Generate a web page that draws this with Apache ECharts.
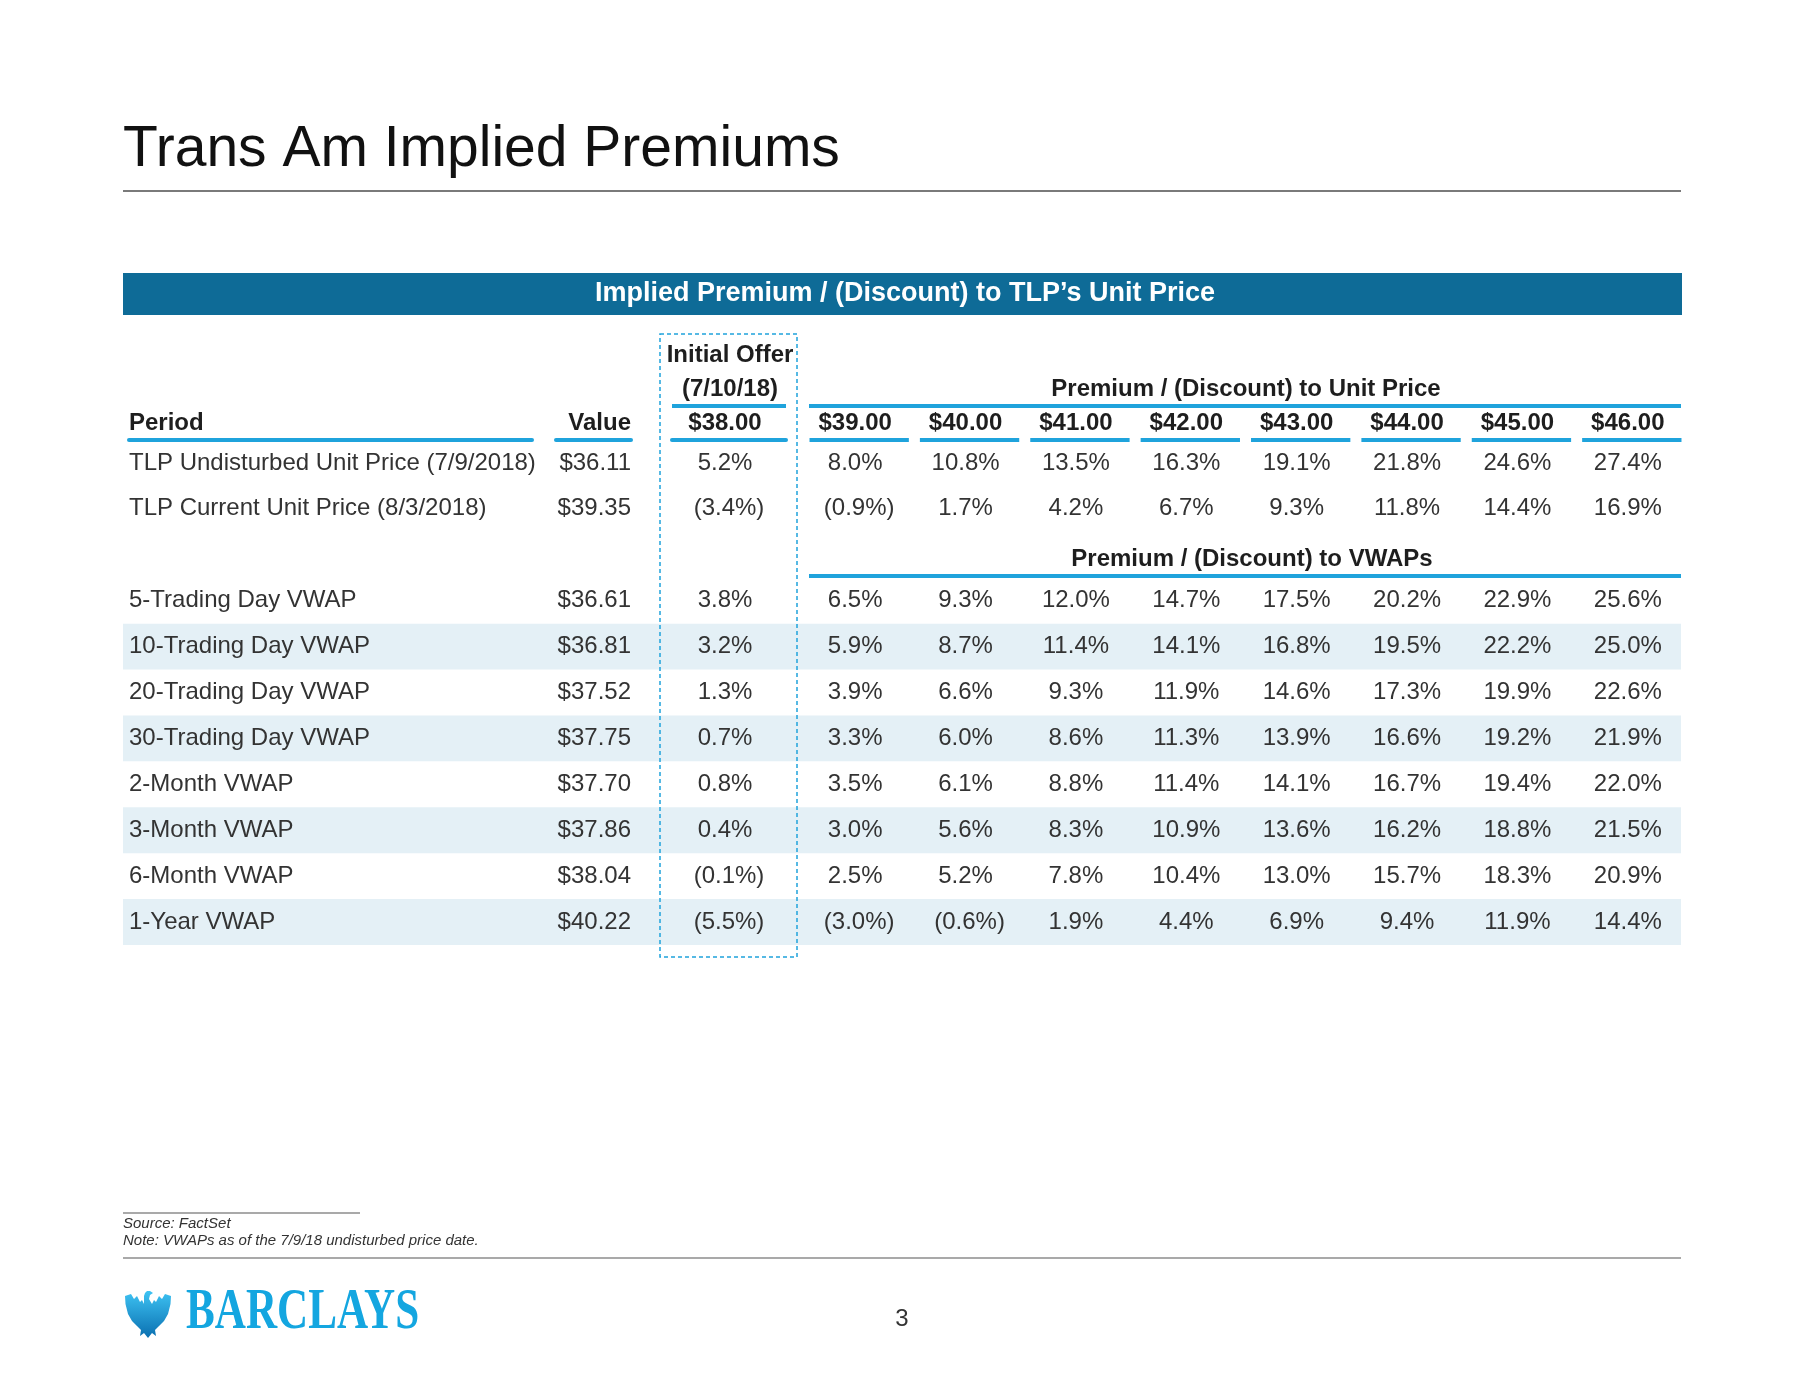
<!DOCTYPE html>
<html>
<head>
<meta charset="utf-8">
<script src="https://cdn.jsdelivr.net/npm/echarts@6/dist/echarts.min.js"></script>
<style>html,body{margin:0;padding:0;background:#fff;}#chart{width:1802px;height:1391px;}</style>
</head>
<body>
<div id="chart"></div>
<script>
// ---------------- data ----------------
const priceLevels = [39, 40, 41, 42, 43, 44, 45, 46];
const initialOfferPrice = 38;
const unitPeriods = ['TLP Undisturbed Unit Price (7/9/2018)', 'TLP Current Unit Price (8/3/2018)'];
const vwapPeriods = ['5-Trading Day VWAP', '10-Trading Day VWAP', '20-Trading Day VWAP', '30-Trading Day VWAP',
  '2-Month VWAP', '3-Month VWAP', '6-Month VWAP', '1-Year VWAP'];
const unitValues = [36.11, 39.35];
const vwapValues = [36.61, 36.81, 37.52, 37.75, 37.70, 37.86, 38.04, 40.22];
const initialUnit = [5.2, -3.4];
const initialVwap = [3.8, 3.2, 1.3, 0.7, 0.8, 0.4, -0.1, -5.5];
const premUndisturbed = [8.0, 10.8, 13.5, 16.3, 19.1, 21.8, 24.6, 27.4];
const premCurrent = [-0.9, 1.7, 4.2, 6.7, 9.3, 11.8, 14.4, 16.9];
const prem5Day = [6.5, 9.3, 12.0, 14.7, 17.5, 20.2, 22.9, 25.6];
const prem10Day = [5.9, 8.7, 11.4, 14.1, 16.8, 19.5, 22.2, 25.0];
const prem20Day = [3.9, 6.6, 9.3, 11.9, 14.6, 17.3, 19.9, 22.6];
const prem30Day = [3.3, 6.0, 8.6, 11.3, 13.9, 16.6, 19.2, 21.9];
const prem2Month = [3.5, 6.1, 8.8, 11.4, 14.1, 16.7, 19.4, 22.0];
const prem3Month = [3.0, 5.6, 8.3, 10.9, 13.6, 16.2, 18.8, 21.5];
const prem6Month = [2.5, 5.2, 7.8, 10.4, 13.0, 15.7, 18.3, 20.9];
const prem1Year = [-3.0, -0.6, 1.9, 4.4, 6.9, 9.4, 11.9, 14.4];

// ---------------- build ----------------
const FONT = '"Liberation Sans", Arial, Helvetica, sans-serif';
const BLUE = '#1fa3dc';
const TEXT = '#333333';
const HEAD = '#1e1e1e';

const fmtDollar = v => '$' + v.toFixed(2);
const fmtPct = v => v < 0 ? '(' + Math.abs(v).toFixed(1) + '%)' : v.toFixed(1) + '%';

const rows = [...unitPeriods, '', ...vwapPeriods];
const rowOfUnit = i => i;
const rowOfVwap = j => j + unitPeriods.length + 1;

const valueCells = [];
unitValues.forEach((v, i) => valueCells.push({ pos: [1, rowOfUnit(i)], text: fmtDollar(v), neg: false }));
vwapValues.forEach((v, j) => valueCells.push({ pos: [1, rowOfVwap(j)], text: fmtDollar(v), neg: false }));

const initCells = [];
initialUnit.forEach((v, i) => initCells.push({ pos: [0, rowOfUnit(i)], text: fmtPct(v), neg: v < 0 }));
initialVwap.forEach((v, j) => initCells.push({ pos: [0, rowOfVwap(j)], text: fmtPct(v), neg: v < 0 }));

const premRowsUnit = [premUndisturbed, premCurrent];
const premRowsVwap = [prem5Day, prem10Day, prem20Day, prem30Day, prem2Month, prem3Month, prem6Month, prem1Year];
const priceCells = [];
premRowsUnit.forEach((arr, i) => arr.forEach((v, c) => priceCells.push({ pos: [c, rowOfUnit(i)], text: fmtPct(v), neg: v < 0 })));
premRowsVwap.forEach((arr, j) => arr.forEach((v, c) => priceCells.push({ pos: [c, rowOfVwap(j)], text: fmtPct(v), neg: v < 0 })));

const shade = rows.map((r, k) => (k > unitPeriods.length && (k - unitPeriods.length - 1) % 2 === 1) ? 1 : 0);

function cellRenderer(cells, align) {
  return function (params, api) {
    const c = cells[params.dataIndex];
    const pt = api.coord([api.value(0), api.value(1)]);
    const shift = (align === 'center' && !c.neg) ? -4 : 0;
    return {
      type: 'text',
      x: pt[0] + shift, y: pt[1],
      style: { text: c.text, align: align, verticalAlign: 'middle', fill: TEXT, fontSize: 24, fontFamily: FONT }
    };
  };
}

const GTOP = 440, GH = 505;
const gridBase = { top: GTOP, height: GH, containLabel: false };
const yBase = {
  type: 'category', data: rows, inverse: true,
  axisLine: { show: false }, axisTick: { show: false }, axisLabel: { show: false }, splitLine: { show: false }
};
const headLabel = { fontWeight: 'bold', fontSize: 24, color: HEAD, fontFamily: FONT, margin: 5 };

const eaglePts = [[0,6],[6,4],[9,9],[12,6],[15,12],[17,10],[19,14],[19,6],[20,3],[22,1],[25,1],[28,3],[25,5],[24,9],[27,14],
  [29,10],[31,12],[34,6],[37,9],[40,4],[46,6],[45.5,14],[43,24],[39,31],[34,36],[30,40],[31,46],[27,43],[23,48],[19,43],
  [15,46],[16,40],[12,36],[7,31],[3,24],[0.5,14]];

const option = {
  backgroundColor: '#ffffff',
  animation: false,
  textStyle: { fontFamily: FONT },
  grid: [
    Object.assign({ left: 123, width: 1558 }, gridBase),
    Object.assign({ left: 129, width: 403 }, gridBase),
    Object.assign({ left: 556, width: 75 }, gridBase),
    Object.assign({ left: 672, width: 114 }, gridBase),
    Object.assign({ left: 804, width: 883 }, gridBase)
  ],
  xAxis: [
    { gridIndex: 0, type: 'value', min: 0, max: 1, show: false },
    { gridIndex: 1, type: 'value', min: 0, max: 1, interval: 1, position: 'top', z: 10,
      axisLine: { show: true, lineStyle: { color: BLUE, width: 4 } }, axisTick: { show: false }, splitLine: { show: false },
      axisLabel: Object.assign({ formatter: v => v === 0 ? 'Period' : '', align: 'left' }, headLabel) },
    { gridIndex: 2, type: 'value', min: 0, max: 1, interval: 1, position: 'top', z: 10,
      axisLine: { show: true, lineStyle: { color: BLUE, width: 4 } }, axisTick: { show: false }, splitLine: { show: false },
      axisLabel: Object.assign({ formatter: v => v === 1 ? 'Value' : '', align: 'right' }, headLabel) },
    { gridIndex: 3, type: 'category', data: [fmtDollar(initialOfferPrice)], position: 'top', z: 10,
      axisLine: { show: true, lineStyle: { color: BLUE, width: 4 } }, axisTick: { show: false }, splitLine: { show: false },
      axisLabel: Object.assign({ padding: [0, 8, 0, 0] }, headLabel) },
    { gridIndex: 4, type: 'category', data: priceLevels.map(fmtDollar), position: 'top', z: 10,
      axisLine: { show: false }, axisTick: { show: false }, splitLine: { show: false },
      axisLabel: Object.assign({ interval: 0, padding: [0, 8, 0, 0] }, headLabel) }
  ],
  yAxis: [
    Object.assign({ gridIndex: 0 }, yBase),
    Object.assign({}, yBase, { gridIndex: 1, z: 10, axisLabel: { show: true, inside: true, margin: 0, interval: 0, fontSize: 24, color: TEXT, fontFamily: FONT } }),
    Object.assign({ gridIndex: 2 }, yBase),
    Object.assign({ gridIndex: 3 }, yBase),
    Object.assign({ gridIndex: 4 }, yBase)
  ],
  series: [
    { type: 'bar', xAxisIndex: 0, yAxisIndex: 0, data: shade, barCategoryGap: '0%', silent: true, z: 0,
      itemStyle: { color: '#e4f0f6' } },
    { type: 'custom', xAxisIndex: 2, yAxisIndex: 2, data: valueCells.map(c => c.pos), renderItem: cellRenderer(valueCells, 'right'), silent: true, z: 5 },
    { type: 'custom', xAxisIndex: 3, yAxisIndex: 3, data: initCells.map(c => c.pos), renderItem: cellRenderer(initCells, 'center'), silent: true, z: 5 },
    { type: 'custom', xAxisIndex: 4, yAxisIndex: 4, data: priceCells.map(c => c.pos), renderItem: cellRenderer(priceCells, 'center'), silent: true, z: 5 },
    { type: 'custom', xAxisIndex: 4, yAxisIndex: 4, data: priceLevels.map((p, i) => [i, 0]), silent: true, z: 5,
      renderItem: function (params, api) {
        const pt = api.coord([api.value(0), 0]);
        const bw = api.size([1, 0])[0];
        const bh = api.size([0, 1])[1];
        const top = pt[1] - bh / 2;
        return { type: 'rect', shape: { x: pt[0] - bw * 0.45, y: top - 2, width: bw * 0.9, height: 4 }, style: { fill: BLUE } };
      } }
  ],
  graphic: [
    { type: 'text', x: 123, y: 150, z: 10, style: { text: 'Trans Am Implied Premiums', fontSize: 57, fontFamily: FONT, fill: '#111', verticalAlign: 'middle', align: 'left' } },
    { type: 'line', z: 10, shape: { x1: 123, y1: 191, x2: 1681, y2: 191 }, style: { stroke: '#7a7a7a', lineWidth: 2 } },
    { type: 'rect', z: 10, shape: { x: 123, y: 273, width: 1559, height: 42 }, style: { fill: '#0e6b97' } },
    { type: 'text', x: 905, y: 294, z: 11, style: { text: 'Implied Premium / (Discount) to TLP\u2019s Unit Price', fontSize: 27, fontWeight: 'bold', fontFamily: FONT, fill: '#fff', align: 'center', verticalAlign: 'middle' } },
    { type: 'text', x: 730, y: 355, z: 10, style: { text: 'Initial Offer', fontSize: 24, fontWeight: 'bold', fontFamily: FONT, fill: HEAD, align: 'center', verticalAlign: 'middle' } },
    { type: 'text', x: 730, y: 389, z: 10, style: { text: '(7/10/18)', fontSize: 24, fontWeight: 'bold', fontFamily: FONT, fill: HEAD, align: 'center', verticalAlign: 'middle' } },
    { type: 'line', z: 10, shape: { x1: 672, y1: 406, x2: 786, y2: 406 }, style: { stroke: BLUE, lineWidth: 4 } },
    { type: 'text', x: 1246, y: 389, z: 10, style: { text: 'Premium / (Discount) to Unit Price', fontSize: 24, fontWeight: 'bold', fontFamily: FONT, fill: HEAD, align: 'center', verticalAlign: 'middle' } },
    { type: 'line', z: 10, shape: { x1: 809, y1: 406, x2: 1681, y2: 406 }, style: { stroke: BLUE, lineWidth: 4 } },
    { type: 'text', x: 1252, y: 559, z: 10, style: { text: 'Premium / (Discount) to VWAPs', fontSize: 24, fontWeight: 'bold', fontFamily: FONT, fill: HEAD, align: 'center', verticalAlign: 'middle' } },
    { type: 'line', z: 10, shape: { x1: 809, y1: 576, x2: 1681, y2: 576 }, style: { stroke: BLUE, lineWidth: 4 } },
    { type: 'rect', z: 12, shape: { x: 660, y: 334, width: 137, height: 623 }, style: { fill: 'none', stroke: BLUE, lineWidth: 1.5, lineDash: [4, 3] } },
    { type: 'line', z: 10, shape: { x1: 123, y1: 1213, x2: 360, y2: 1213 }, style: { stroke: '#555', lineWidth: 1.2 } },
    { type: 'text', x: 123, y: 1224, z: 10, style: { text: 'Source: FactSet', fontSize: 15, fontStyle: 'italic', fontFamily: FONT, fill: '#333', align: 'left', verticalAlign: 'middle' } },
    { type: 'text', x: 123, y: 1241, z: 10, style: { text: 'Note: VWAPs as of the 7/9/18 undisturbed price date.', fontSize: 15, fontStyle: 'italic', fontFamily: FONT, fill: '#333', align: 'left', verticalAlign: 'middle' } },
    { type: 'line', z: 10, shape: { x1: 123, y1: 1258, x2: 1681, y2: 1258 }, style: { stroke: '#555', lineWidth: 1.2 } },
    { type: 'polygon', x: 125, y: 1290, z: 10, shape: { points: eaglePts },
      style: { fill: { type: 'linear', x: 0, y: 0, x2: 0, y2: 1, colorStops: [{ offset: 0, color: '#3ec3f3' }, { offset: 1, color: '#0a6fb0' }] } } },
    { type: 'text', x: 186, y: 1314, scaleX: 0.77, z: 10, style: { text: 'BARCLAYS', fontSize: 56, fontWeight: 'bold', fontFamily: '"Liberation Serif", "Times New Roman", serif', fill: '#14a6e0', align: 'left', verticalAlign: 'middle' } },
    { type: 'text', x: 902, y: 1319, z: 10, style: { text: '3', fontSize: 24, fontFamily: FONT, fill: '#333', align: 'center', verticalAlign: 'middle' } }
  ]
};

const chart = echarts.init(document.getElementById('chart'), null, { renderer: 'canvas', width: 1802, height: 1391 });
chart.setOption(option);
</script>
</body>
</html>
